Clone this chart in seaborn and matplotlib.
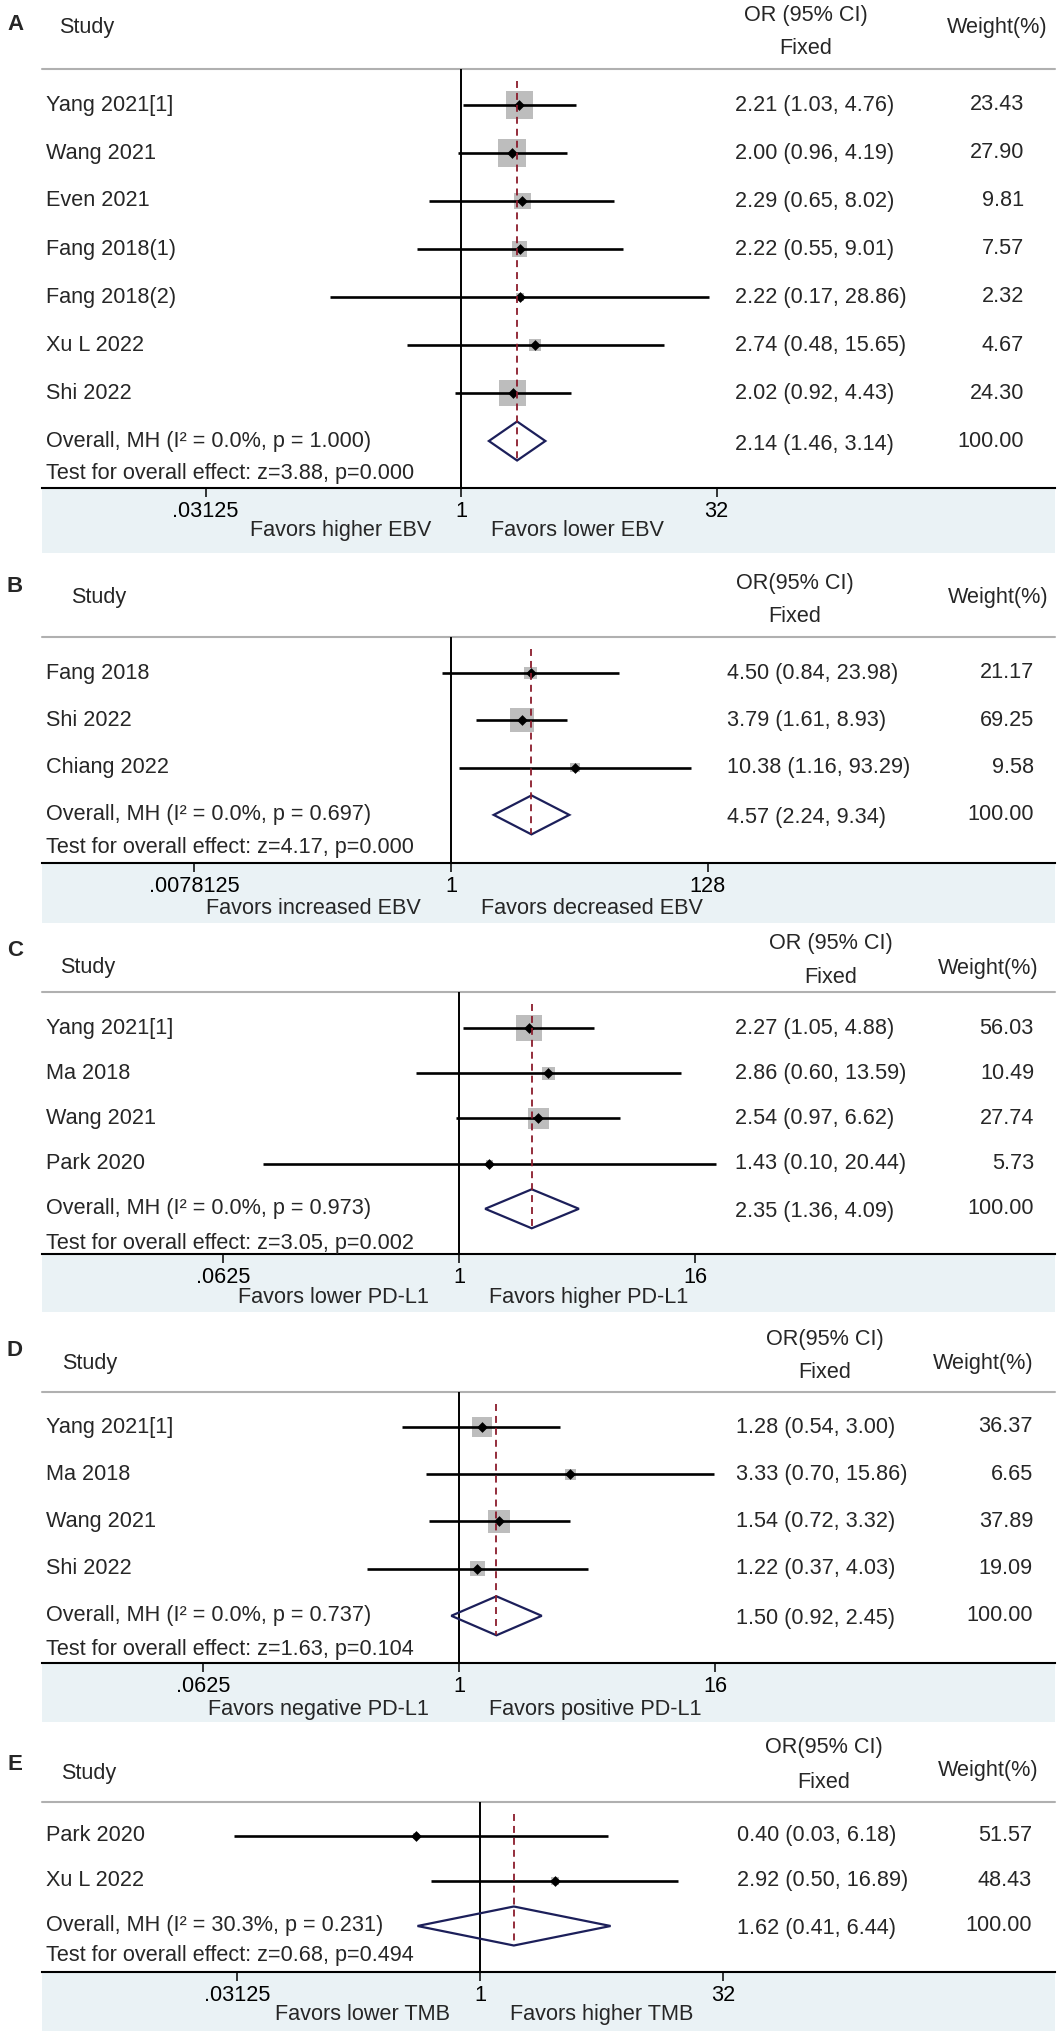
import numpy as np
import pandas as pd
import matplotlib
matplotlib.use("Agg")
import matplotlib.pyplot as plt
import seaborn as sns
from matplotlib.patches import Polygon

# ---------------- data ----------------
a_studies = ["Yang 2021[1]", "Wang 2021", "Even 2021", "Fang 2018(1)", "Fang 2018(2)", "Xu L 2022", "Shi 2022"]
a_or = [2.21, 2.00, 2.29, 2.22, 2.22, 2.74, 2.02]
a_lo = [1.03, 0.96, 0.65, 0.55, 0.17, 0.48, 0.92]
a_hi = [4.76, 4.19, 8.02, 9.01, 28.86, 15.65, 4.43]
a_weight = [23.43, 27.90, 9.81, 7.57, 2.32, 4.67, 24.30]
a_pooled = [2.14, 1.46, 3.14]
a_het = ["0.0%", "1.000"]
a_test = ["3.88", "0.000"]
a_ticks = [1 / 32, 1, 32]
a_ticklabels = [".03125", "1", "32"]
a_favors = ["Favors higher EBV", "Favors lower EBV"]
a_header = "OR (95% CI)"

b_studies = ["Fang 2018", "Shi 2022", "Chiang 2022"]
b_or = [4.50, 3.79, 10.38]
b_lo = [0.84, 1.61, 1.16]
b_hi = [23.98, 8.93, 93.29]
b_weight = [21.17, 69.25, 9.58]
b_pooled = [4.57, 2.24, 9.34]
b_het = ["0.0%", "0.697"]
b_test = ["4.17", "0.000"]
b_ticks = [1 / 128, 1, 128]
b_ticklabels = [".0078125", "1", "128"]
b_favors = ["Favors increased EBV", "Favors decreased EBV"]
b_header = "OR(95% CI)"

c_studies = ["Yang 2021[1]", "Ma 2018", "Wang 2021", "Park 2020"]
c_or = [2.27, 2.86, 2.54, 1.43]
c_lo = [1.05, 0.60, 0.97, 0.10]
c_hi = [4.88, 13.59, 6.62, 20.44]
c_weight = [56.03, 10.49, 27.74, 5.73]
c_pooled = [2.35, 1.36, 4.09]
c_het = ["0.0%", "0.973"]
c_test = ["3.05", "0.002"]
c_ticks = [1 / 16, 1, 16]
c_ticklabels = [".0625", "1", "16"]
c_favors = ["Favors lower PD-L1", "Favors higher PD-L1"]
c_header = "OR (95% CI)"

d_studies = ["Yang 2021[1]", "Ma 2018", "Wang 2021", "Shi 2022"]
d_or = [1.28, 3.33, 1.54, 1.22]
d_lo = [0.54, 0.70, 0.72, 0.37]
d_hi = [3.00, 15.86, 3.32, 4.03]
d_weight = [36.37, 6.65, 37.89, 19.09]
d_pooled = [1.50, 0.92, 2.45]
d_het = ["0.0%", "0.737"]
d_test = ["1.63", "0.104"]
d_ticks = [1 / 16, 1, 16]
d_ticklabels = [".0625", "1", "16"]
d_favors = ["Favors negative PD-L1", "Favors positive PD-L1"]
d_header = "OR(95% CI)"

e_studies = ["Park 2020", "Xu L 2022"]
e_or = [0.40, 2.92]
e_lo = [0.03, 0.50]
e_hi = [6.18, 16.89]
e_weight = [51.57, 48.43]
e_pooled = [1.62, 0.41, 6.44]
e_het = ["30.3%", "0.231"]
e_test = ["0.68", "0.494"]
e_ticks = [1 / 32, 1, 32]
e_ticklabels = [".03125", "1", "32"]
e_favors = ["Favors lower TMB", "Favors higher TMB"]
e_header = "OR(95% CI)"

panel_letters = ["A", "B", "C", "D", "E"]

# ---------------- layout (pixels) ----------------
W, H = 1061, 2032
L_PX, R_PX = 42, 1055
layouts = [
    dict(top=0, first=105, sp=48.0, test=473, axis=488, sep=69, or_y=15, fixed_y=49, study_y=28, study_x=59,
         weight_y=28, favors=530, band=553, letter=25, px1=461, ppd=51.1, hx=806, wx=997, vx=735, wr=1024, k=10.8),
    dict(top=560, first=673, sp=47.3, test=848, axis=863, sep=637, or_y=583, fixed_y=617, study_y=598, study_x=71,
         weight_y=597, favors=909, band=923, letter=587, px1=451, ppd=36.7, hx=795, wx=998, vx=727, wr=1034, k=10.5),
    dict(top=925, first=1028, sp=45.2, test=1243, axis=1254, sep=992, or_y=943, fixed_y=977, study_y=967, study_x=60,
         weight_y=968, favors=1297, band=1312, letter=950, px1=459, ppd=59.0, hx=831, wx=988, vx=735, wr=1034, k=10.2),
    dict(top=1318, first=1427, sp=47.2, test=1650, axis=1663, sep=1392, or_y=1340, fixed_y=1373, study_y=1363, study_x=62,
         weight_y=1363, favors=1710, band=1722, letter=1350, px1=459, ppd=64.0, hx=825, wx=983, vx=736, wr=1033, k=8.8),
    dict(top=1724, first=1836, sp=45.0, test=1956, axis=1972, sep=1802, or_y=1748, fixed_y=1783, study_y=1774, study_x=61,
         weight_y=1771, favors=2015, band=2031, letter=1765, px1=480, ppd=48.6, hx=824, wx=988, vx=737, wr=1032, k=7.5),
]

panels = [
    (a_studies, a_or, a_lo, a_hi, a_weight, a_pooled, a_het, a_test, a_ticks, a_ticklabels, a_favors, a_header),
    (b_studies, b_or, b_lo, b_hi, b_weight, b_pooled, b_het, b_test, b_ticks, b_ticklabels, b_favors, b_header),
    (c_studies, c_or, c_lo, c_hi, c_weight, c_pooled, c_het, c_test, c_ticks, c_ticklabels, c_favors, c_header),
    (d_studies, d_or, d_lo, d_hi, d_weight, d_pooled, d_het, d_test, d_ticks, d_ticklabels, d_favors, d_header),
    (e_studies, e_or, e_lo, e_hi, e_weight, e_pooled, e_het, e_test, e_ticks, e_ticklabels, e_favors, e_header),
]

# ---------------- style ----------------
sns.set_theme(style="white")
plt.rcParams["font.family"] = ["Liberation Sans", "DejaVu Sans"]
plt.rcParams["lines.scale_dashes"] = False
FS = 15.6
BAND = "#eaf2f5"
BOX = "#bdbdbd"
NAVY = "#1c1f5a"
DASH = "#8b1c2c"
SEP = "#b0b0b0"

fig = plt.figure(figsize=(W / 100, H / 100), dpi=100)

for letter, lay, (studies, ors, los, his, wts, pooled, het, test, ticks, ticklabels, favors, header) in zip(
        panel_letters, layouts, panels):
    n = len(studies)
    ax = fig.add_axes([0, 1 - lay["band"] / H, 1, (lay["band"] - lay["top"]) / H])
    ax.set_facecolor("none")
    ax.set_xscale("log", base=2)
    ax.set_xlim(2 ** (-lay["px1"] / lay["ppd"]), 2 ** ((W - lay["px1"]) / lay["ppd"]))
    ax.set_ylim(lay["band"], lay["top"])
    tx = ax.get_yaxis_transform()

    df = pd.DataFrame({"study": studies, "or": ors, "lo": los, "hi": his, "w": wts})
    df["y"] = lay["first"] + lay["sp"] * np.arange(n)
    se = (np.log(df["hi"]) - np.log(df["lo"])) / 3.92
    side_pt = lay["k"] / se * 0.72
    y_overall = lay["first"] + lay["sp"] * n

    # band below axis
    ax.axhspan(lay["axis"], lay["band"], xmin=L_PX / W, xmax=R_PX / W, color=BAND, lw=0, zorder=0)
    # header separator
    ax.axhline(lay["sep"], xmin=L_PX / W, xmax=R_PX / W, color=SEP, lw=1.5, zorder=1)
    # null line
    ax.vlines(1, lay["sep"], lay["axis"], color="black", lw=1.4, zorder=2)

    # boxes
    ax.scatter(df["or"], df["y"], s=side_pt ** 2, marker="s", color=BOX, linewidths=0, zorder=3)
    # CI lines
    ax.hlines(df["y"], df["lo"], df["hi"], color="black", lw=1.9, zorder=4)
    # point estimates
    sns.scatterplot(data=df, x="or", y="y", marker="D", color="black", s=30, linewidth=0, zorder=5, ax=ax, legend=False)

    # pooled diamond
    est, plo, phi = pooled
    hh = 19.5
    diamond = Polygon([[plo, y_overall], [est, y_overall - hh], [phi, y_overall], [est, y_overall + hh]],
                      closed=True, fill=False, edgecolor=NAVY, lw=1.6, zorder=6)
    ax.add_patch(diamond)
    # pooled dashed line
    ax.vlines(est, lay["sep"] + 12, y_overall + hh, color=DASH, lw=1.3, linestyles=(0, (5, 3.6)), zorder=7)

    # axis line & ticks
    for s in ["top", "left", "right"]:
        ax.spines[s].set_visible(False)
    ax.spines["bottom"].set_position(("data", lay["axis"]))
    ax.spines["bottom"].set_bounds(2 ** ((L_PX - lay["px1"]) / lay["ppd"]), 2 ** ((R_PX - lay["px1"]) / lay["ppd"]))
    ax.spines["bottom"].set_color("black")
    ax.spines["bottom"].set_linewidth(1.5)
    ax.set_xticks(ticks)
    ax.set_xticklabels(ticklabels)
    ax.minorticks_off()
    ax.set_yticks([])
    ax.tick_params(axis="x", direction="out", length=6.5, width=1.1, pad=3, labelsize=FS, colors="black",
                   bottom=True)
    ax.set_xlabel("")
    ax.set_ylabel("")

    # favors labels
    gap = 30
    ax.text(2 ** (-gap / lay["ppd"]), lay["favors"], favors[0], ha="right", va="center", fontsize=FS)
    ax.text(2 ** (gap / lay["ppd"]), lay["favors"], favors[1], ha="left", va="center", fontsize=FS)

    # headers
    fig.text(15 / W, 1 - lay["letter"] / H, letter, ha="center", va="center", fontsize=16, fontweight="bold")
    ax.text(lay["study_x"] / W, lay["study_y"], "Study", transform=tx, ha="left", va="center", fontsize=FS)
    ax.text(lay["hx"] / W, lay["or_y"], header, transform=tx, ha="center", va="center", fontsize=FS)
    ax.text(lay["hx"] / W, lay["fixed_y"], "Fixed", transform=tx, ha="center", va="center", fontsize=FS)
    ax.text(lay["wx"] / W, lay["weight_y"], "Weight(%)", transform=tx, ha="center", va="center", fontsize=FS)

    # study rows
    for _, r in df.iterrows():
        ax.text(46 / W, r["y"], r["study"], transform=tx, ha="left", va="center", fontsize=FS)
        ax.text(lay["vx"] / W, r["y"], f"{r['or']:.2f} ({r['lo']:.2f}, {r['hi']:.2f})", transform=tx,
                ha="left", va="center", fontsize=FS)
        ax.text(lay["wr"] / W, r["y"], f"{r['w']:.2f}", transform=tx, ha="right", va="center", fontsize=FS)

    # overall row
    ax.text(46 / W, y_overall, f"Overall, MH (I\u00b2 = {het[0]}, p = {het[1]})", transform=tx,
            ha="left", va="center", fontsize=FS)
    ax.text(lay["vx"] / W, y_overall + 3, f"{est:.2f} ({plo:.2f}, {phi:.2f})", transform=tx,
            ha="left", va="center", fontsize=FS)
    ax.text(lay["wr"] / W, y_overall, f"{100:.2f}", transform=tx, ha="right", va="center", fontsize=FS)
    ax.text(46 / W, lay["test"], f"Test for overall effect: z={test[0]}, p={test[1]}", transform=tx,
            ha="left", va="center", fontsize=FS)

fig.savefig("out.png", dpi=100, facecolor="white")
